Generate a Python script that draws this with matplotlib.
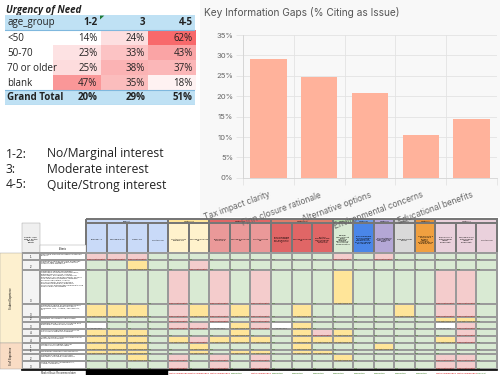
import textwrap
import numpy as np
import matplotlib
matplotlib.use("Agg")
import matplotlib.pyplot as plt
from matplotlib.colors import LinearSegmentedColormap, ListedColormap
from matplotlib.patches import Rectangle, Polygon
from matplotlib.ticker import PercentFormatter

# ---- urgency of need pivot ----
age_groups = ["<50", "50-70", "70 or older", "blank"]
interest_levels = ["1-2", "3", "4-5"]
urgency_pct = [[14, 24, 62],
               [23, 33, 43],
               [25, 38, 37],
               [47, 35, 18]]
grand_total_pct = [20, 29, 51]

legend_keys = ["1-2:", "3:", "4-5:"]
legend_desc = ["No/Marginal interest", "Moderate interest", "Quite/Strong interest"]

# ---- info gaps bar chart ----
gap_labels = ["Tax impact clarity", "Finn closure rationale", "Alternative options",
              "Environmental concerns", "Educational benefits"]
gap_pct = [29.2, 24.7, 20.8, 10.5, 14.4]

# ---- options evaluation sheet ----
option_groups = ["Current", "Option #1", "Option #7", "Option 6-2", "Option 1",
                 "Option B", "Option C", "Option 3", "Option A", "Option 4"]
option_group_sizes = [4, 2, 3, 3, 1, 1, 1, 1, 1, 3]
option_names = [
    "Elon pk - 3", "Woodward 3-5", "Henry 4-8", "Trustee 4-8",
    "Trustee serves grades 3-8", "Woodward serves 4-8",
    "Elon serves Pre-K to 3", "Woodward serves 4-8", "Trustee serves 3-8",
    "Elon expanded and renovated per analysis to serve Pre-K to 3",
    "Woodward serves 4-8",
    "Trustee expanded and renovated per analysis to serve 3-8",
    "Minimal renovation at library (assumed \"deferred maintenance\" only) Elsen same solution",
    "Elon expanded and renovated to serve five grades (Pre-K to 3) Woodward becomes 4-8",
    "Full Whitehorn code compliant renovation of library",
    "New five grade school",
    "New Pre-K to 5 school at a suitable location (including possible use of the Elon site)",
    "Elon Pre-K-3 with modular (actual permanent)",
    "Woodward 3-6 with modular (actual permanent)",
    "Trustee 3-8",
]
criteria = [
    "Reducing student transitions between\nschools",
    "Dedicated spaces for core academic\nclasses with facilities that meet the\nneeds of the discipline",
    "Dedicated spaces for English\nLanguage Development programs,\nintervention services, special\neducation, including occupational\ntherapists, physical therapists, speech\nand language therapists, adaptive\nphysical education, school\npsychologists, Board Certified\nBehavior specialists, guidance\ncounselors, intervention specialists and\nemployment specialists",
    "Dedicated space or expanded space\nfor specialized special education\nprograms (e.g., Autism, Therapeutic,\netc.)",
    "Maintain specialist programming",
    "Maintain band, chorus, orchestra and\ninstrument rentals/ workshops",
    "Curriculum expertise and resources\nare aligned within the building",
    "Ability to group classes by grade level\nin the physical space",
    "Number of collegiate teacher\ncollaboration opportunities",
    "Maximizes staff time and efficiency",
    "Dedicated space for educator\nmeetings, planning, preparation",
    "Office space for Administrators,\nAdmin Assistants",
]
criteria_priority = ["1", "2", "3", "3", "2", "3", "4", "4", "1", "1", "2", "3"]
criteria_area = ["Student Experience"] * 8 + ["Staff Experience"] * 4
# G = Yes, Y = Yes with trade-offs, R = Does not meet it, W = not applicable
ratings = [
    "RRRGGGGGGGGGRGRGGGGG",
    "GGYGGRGGGGGGGGGGGGGG",
    "GGGGRGRGRGGGYGGGGRRG",
    "YYYGRYRYRGYGGGGYGRRG",
    "GGGGRGRGRGGGGGGGGYYG",
    "WGGGRRWYRWYGGGGGGWRG",
    "YYYGGGGYGGYRYGGGGGRG",
    "YYYGYRYYYGYYYGGGGYRG",
    "YYYGGYGGGGYGGGYGGGGG",
    "YYYGGYGYYGYYGGGGGGGG",
    "GGYGRGRGRGGGYGGGGRRG",
    "GGGGRGRGRGGGGGGGGRRG",
]
recommendation = ["", "", "", "",
                  "Not recommended", "Not recommended", "Not recommended", "Suggested",
                  "Not recommended", "Suggested", "Suggested", "Suggested",
                  "Suggested", "Suggested", "Suggested", "Suggested", "Suggested",
                  "Not recommended", "Not recommended", "Good fit"]

# ---- styles / layout (pixels of a 500x375 canvas) ----
W, H = 500, 375
rating_codes = "GYRW"
rating_fill = ["#d9ead3", "#ffe599", "#f4cccc", "#ffffff"]
rating_word = ["Yes", "Yes with trade-offs", "Does not meet it", "not applicable"]
rating_ink = ["#38761d", "#7f6000", "#cc0000", "#555555"]
band_colors = ["#c9daf8", "#ffe599", "#e06666", "#dd7e6b", "#b6d7a8",
               "#6d9eeb", "#b4a7d6", "#cccccc", "#e69138", "#ead1dc"]
head_colors = ["#c9daf8", "#fff2cc", "#ea9999", "#e06666", "#d9ead3",
               "#4a86e8", "#b4a7d6", "#d9d9d9", "#f0a040", "#ead1dc"]
area_colors = {"Student Experience": "#fdf0cf", "Staff Experience": "#f9dcc4"}
col_edges = 86 + 20.55 * np.arange(len(option_names) + 1)
row_edges = np.array([253, 260, 270, 304, 317, 322, 329, 336, 343, 350, 354, 361, 369])
grid_c = "#9a9a9a"
sheet_font = "Liberation Sans"
xl_font = "Open Sans"


def px_rect(x0, y0, x1, y1):
    return [x0 / W, 1 - y1 / H, (x1 - x0) / W, (y1 - y0) / H]


def clipped(ax, x0, y0, w, h):
    return Rectangle((x0, y0), w, h, transform=ax.transData)


fig = plt.figure(figsize=(5, 3.75), dpi=100)
canvas = fig.add_axes([0, 0, 1, 1])
canvas.set_xlim(0, W)
canvas.set_ylim(H, 0)
canvas.axis("off")

# ---------- urgency table ----------
canvas.text(6, 10, "Urgency of Need", fontsize=7, fontweight="bold", style="italic",
            family=xl_font, va="center", color="#222")

axt = fig.add_axes(px_rect(5, 15, 195, 105))
axt.set_xlim(0, 4)
axt.set_ylim(6, 0)
axt.axis("off")
vals = np.array(urgency_pct)
heat = LinearSegmentedColormap.from_list("xl_heat", ["#ffffff", "#f8696b"])
axt.imshow(vals, cmap=heat, vmin=vals.min(), vmax=vals.max(), extent=(1, 4, 5, 1),
           aspect="auto", interpolation="nearest")
axt.axhspan(0, 1, color="#bfe1f4", lw=0)
axt.axhspan(5, 6, color="#bfe1f4", lw=0)
for yl in (1, 5, 6):
    axt.axhline(yl, color="#7fb8de", lw=0.8)
axt.add_patch(Polygon([(2, 0.04), (2.09, 0.04), (2, 0.3)], color="#1f7a36", lw=0))

tk = dict(fontsize=7, family=xl_font, va="center", color="#222")
t = axt.text(0.05, 0.5, "age_group", **tk)
t.set_clip_path(clipped(axt, 0, 0, 1, 6))
for j, lvl in enumerate(interest_levels):
    axt.text(j + 2 - 0.05, 0.5, lvl, ha="right", fontweight="bold", **tk)
for i, g in enumerate(age_groups):
    t = axt.text(0.05, i + 1.55, g, **tk)
    t.set_clip_path(clipped(axt, 0, 0, 0.98, 6))
    for j, v in enumerate(urgency_pct[i]):
        axt.text(j + 2 - 0.05, i + 1.55, f"{v}%", ha="right", **tk)
t = axt.text(0.05, 5.5, "Grand Total", fontweight="bold", **tk)
t.set_clip_path(clipped(axt, 0, 0, 0.98, 6))
for j, v in enumerate(grand_total_pct):
    axt.text(j + 2 - 0.05, 5.5, f"{v}%", ha="right", fontweight="bold", **tk)

# ---------- interest legend ----------
for k, (key, desc) in enumerate(zip(legend_keys, legend_desc)):
    y = 154 + 15.5 * k
    canvas.text(6, y, key, fontsize=8.7, family=xl_font, va="center", color="#222")
    canvas.text(47, y, desc, fontsize=8.7, family=xl_font, va="center", color="#222")

# ---------- bar chart ----------
canvas.add_patch(Rectangle((200, 0), 300, 217, fc="#f8f8f8", ec="none", zorder=0))
canvas.text(204, 12, "Key Information Gaps (% Citing as Issue)", fontsize=7.3,
            family="Inter", color="#555", va="center")

axb = fig.add_axes(px_rect(243, 35, 497, 177.8))
axb.set_facecolor("none")
xpos = np.arange(len(gap_labels))
axb.bar(xpos, gap_pct, width=0.72, color="#ffb29b", zorder=2)
axb.set_xlim(-0.5, len(gap_labels) - 0.5)
axb.set_ylim(0, 35)
axb.set_yticks(np.arange(0, 36, 5))
axb.yaxis.set_major_formatter(PercentFormatter(decimals=0))
axb.set_xticks(xpos)
axb.set_xticklabels(gap_labels, rotation=20, ha="right", rotation_mode="anchor",
                    fontsize=6, color="#666", family="Inter")
axb.set_xticks(np.arange(-0.5, len(gap_labels)), minor=True)
axb.grid(axis="y", which="major", color="#e3e3e3", lw=0.6, zorder=0)
axb.grid(axis="x", which="minor", color="#e3e3e3", lw=0.6, zorder=0)
axb.tick_params(axis="x", which="major", length=0, pad=9)
axb.tick_params(axis="x", which="minor", length=5, color="#e3e3e3", width=0.6)
axb.tick_params(axis="y", length=5, color="#e3e3e3", width=0.6, labelsize=5.5,
                labelcolor="#666", pad=2)
for lab in axb.get_yticklabels():
    lab.set_family("Inter")
for s in ("top", "right"):
    axb.spines[s].set_visible(False)
for s in ("left", "bottom"):
    axb.spines[s].set_color("#d4d4d4")
    axb.spines[s].set_linewidth(0.6)

# ---------- options sheet ----------
n_cols = len(option_names)
grp_idx = np.repeat(np.arange(len(option_groups)), option_group_sizes)
grp_edges = col_edges[np.concatenate([[0], np.cumsum(option_group_sizes)])]

canvas.pcolormesh(grp_edges, [219, 223], np.arange(len(option_groups))[None, :],
                  cmap=ListedColormap(band_colors), edgecolors="#777", linewidth=0.3)
for g, name in enumerate(option_groups):
    canvas.text((grp_edges[g] + grp_edges[g + 1]) / 2, 221, name, fontsize=1.6,
                family=sheet_font, ha="center", va="center")

canvas.pcolormesh(col_edges, [223, 253], grp_idx[None, :],
                  cmap=ListedColormap(head_colors), vmin=-0.5, vmax=len(option_groups) - 0.5,
                  edgecolors="#777", linewidth=0.3)
for c, name in enumerate(option_names):
    canvas.text((col_edges[c] + col_edges[c + 1]) / 2, 240, "\n".join(textwrap.wrap(name, 15)),
                fontsize=1.6, family=sheet_font, ha="center", va="center", linespacing=1.1)

# left header cells
canvas.add_patch(Rectangle((22, 223), 18, 30, fc="#efefef", ec=grid_c, lw=0.3))
canvas.text(31, 240, "Priority level\nwith 1 as the\nhighest\npriority", fontsize=1.7,
            family=sheet_font, ha="center", va="center")
canvas.add_patch(Rectangle((40, 245), 46, 8, fc="white", ec=grid_c, lw=0.3))
canvas.text(63, 249.5, "Criteria", fontsize=1.8, family=sheet_font, ha="center", va="center")

# rating grid
codes = np.array([[rating_codes.index(ch) for ch in row] for row in ratings])
canvas.pcolormesh(col_edges, row_edges, codes, cmap=ListedColormap(rating_fill),
                  vmin=-0.5, vmax=3.5, edgecolors=grid_c, linewidth=0.3)
for r in range(len(ratings)):
    for c in range(n_cols):
        k = codes[r, c]
        t = canvas.text(col_edges[c] + 0.6, row_edges[r + 1] - 0.4, rating_word[k],
                        fontsize=1.7, family=sheet_font, color=rating_ink[k], va="bottom")
        t.set_clip_path(clipped(canvas, col_edges[c], row_edges[r],
                                col_edges[c + 1] - col_edges[c], row_edges[r + 1] - row_edges[r]))

# criteria + priority columns
canvas.pcolormesh([22, 40], row_edges, np.zeros((len(criteria), 1)),
                  cmap=ListedColormap(["#f3f3f3"]), edgecolors=grid_c, linewidth=0.3)
canvas.pcolormesh([40, 86], row_edges, np.zeros((len(criteria), 1)),
                  cmap=ListedColormap(["#ffffff"]), edgecolors=grid_c, linewidth=0.3)
for r, (txt, pr) in enumerate(zip(criteria, criteria_priority)):
    canvas.text(41, row_edges[r] + 0.4, txt, fontsize=1.75, family=sheet_font, va="top",
                color="#333", linespacing=1.1)
    canvas.text(31, row_edges[r + 1] - 0.5, pr, fontsize=2, family=sheet_font,
                ha="center", va="bottom")

# area column
areas = list(dict.fromkeys(criteria_area))
for a in areas:
    rows = [i for i, v in enumerate(criteria_area) if v == a]
    y0, y1 = row_edges[rows[0]], row_edges[rows[-1] + 1]
    canvas.add_patch(Rectangle((0, y0), 22, y1 - y0, fc=area_colors[a], ec=grid_c, lw=0.3))
    canvas.text(11, (y0 + y1) / 2, a, rotation=90, fontsize=1.8, family=sheet_font,
                ha="center", va="center")

# recommendation row
canvas.plot([22, col_edges[-1]], [369.6, 369.6], color="black", lw=1.2)
canvas.text(41, 373, "Market Basic Recommendation", fontsize=1.8, family=sheet_font,
            va="center", color="#333")
for c, rec in enumerate(recommendation):
    if rec == "":
        canvas.add_patch(Rectangle((col_edges[c], 370.3), col_edges[c + 1] - col_edges[c], 4.7,
                                   fc="black", ec="black", lw=0.3))
    else:
        ink = "#cc0000" if rec.startswith("Not") else "#38761d"
        canvas.text(col_edges[c] + 0.6, 373, rec, fontsize=1.7, family=sheet_font,
                    color=ink, va="center")

fig.savefig("out.png", dpi=100)
